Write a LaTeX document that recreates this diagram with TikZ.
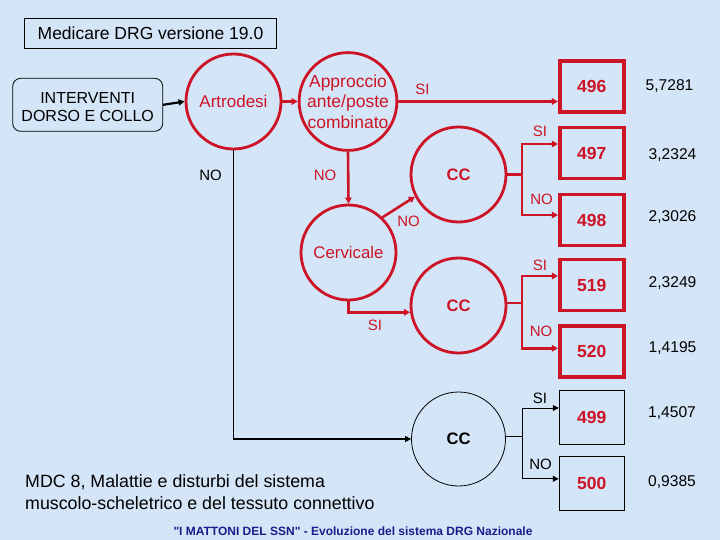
\documentclass[tikz,border=0pt]{standalone}
\usepackage{fontspec}
\setmainfont{Liberation Sans}
\newfontfamily\footfont{Liberation Sans}[Ligatures=TeXOff]
\usetikzlibrary{arrows.meta,calc}
\definecolor{bgc}{RGB}{212,229,247}
\definecolor{dred}{RGB}{204,20,38}
\definecolor{navy}{RGB}{28,28,140}
\begin{document}
\begin{tikzpicture}[x=1pt,y=-1pt,
  rc/.style={circle,draw=dred,line width=2.8pt,minimum size=95pt,inner sep=0pt,text=dred,align=center},
  kc/.style={circle,draw=black,line width=0.8pt,minimum size=94pt,inner sep=0pt,align=center,font=\fontsize{16.6}{19}\selectfont\bfseries},
  rbox/.style={draw=dred,line width=3.6pt,minimum width=64pt,minimum height=51pt,inner sep=0pt,text=dred,font=\fontsize{17.5}{20}\selectfont\bfseries},
  kbox/.style={draw=black,line width=0.9pt,minimum width=65pt,minimum height=54pt,inner sep=0pt,text=dred,font=\fontsize{17.5}{20}\selectfont\bfseries},
  val/.style={inner sep=0pt,font=\fontsize{15.6}{18}\selectfont},
  lab/.style={inner sep=0pt,font=\fontsize{15}{18}\selectfont},
  rarr/.style={draw=dred,line width=2.6pt,-{Triangle[length=6pt,width=6.5pt]}},
  rline/.style={draw=dred,line width=2.6pt},
  karr/.style={draw=black,line width=1.4pt,-{Triangle[length=6pt,width=6pt]}},
  kline/.style={draw=black,line width=1pt}]
\fill[bgc] (0,0) rectangle (720,540);
\useasboundingbox (0,0) rectangle (720,540);

% title
\node[draw=black,line width=0.8pt,minimum width=252pt,minimum height=30pt,inner sep=0pt,
  font=\fontsize{17.5}{20}\selectfont] (title) at (150.5,33.3) {Medicare DRG versione 19.0};

% start box
\node[draw=black,line width=0.8pt,rounded corners=8pt,minimum width=150pt,minimum height=53pt,
  inner sep=0pt,align=center,font=\fontsize{16}{17.5}\selectfont] (int) at (87.7,104.8) {};
\node[inner sep=0pt,align=center,font=\fontsize{16}{17.5}\selectfont] (intt) at (87.7,107) {INTERVENTI\\DORSO E COLLO};

% circles
\node[rc,font=\fontsize{17}{20}\selectfont] (art) at (233.5,101.5) {Artrodesi};
\node[rc,font=\fontsize{17.5}{20.5}\selectfont] (app) at (348,101.5) {Approccio\\ante/poste\\combinato};
\node[rc,font=\fontsize{16.6}{19}\selectfont\bfseries] (cc1) at (458.5,174.5) {CC};
\node[rc,font=\fontsize{16.8}{19}\selectfont] (cer) at (348.5,252.5) {Cervicale};
\node[rc,font=\fontsize{16.6}{19}\selectfont\bfseries] (cc2) at (458.5,305.5) {CC};
\node[kc] (cc3) at (458.5,439) {CC};

% boxes
\node[rbox] (b496) at (591.7,86.7) {496};
\node[rbox] (b497) at (591.7,153) {497};
\node[rbox] (b498) at (591.7,220) {498};
\node[rbox] (b519) at (591.7,285) {519};
\node[rbox] (b520) at (591.7,351.3) {520};
\node[kbox] (b499) at (591.7,417) {499};
\node[kbox] (b500) at (591.7,483.3) {500};

% values
\node[val] (v496) at (669.5,86) {5,7281};
\node[val] (v497) at (672.5,155) {3,2324};
\node[val] (v498) at (672.5,217) {2,3026};
\node[val] (v519) at (672.5,283) {2,3249};
\node[val] (v520) at (672.5,348.5) {1,4195};
\node[val] (v499) at (672,413.5) {1,4507};
\node[val] (v500) at (672,482.5) {0,9385};

% connectors
\draw[draw=black,line width=2.2pt,-{Triangle[length=6pt,width=6pt]}] (int.east) -- (art.west);
\draw[rarr] (art.east) -- (app.west);
\draw[rarr] (app.east) -- (app.east -| b496.west);
\draw[rarr] (app.south) -- (cer.north);
\draw[rarr] (cer.46) -- (cc1.207);
\draw[rarr] (cer.south) |- (cc2.188);
\draw[karr] (art.south) |- (cc3.west);

% CC1 split
\coordinate (j1) at (522,174.5);
\draw[rline] (cc1.east) -- (j1);
\draw[rarr] (j1) |- ([yshift=9pt]b497.west);
\draw[rarr] (j1) |- ([yshift=5pt]b498.west);
% CC2 split
\coordinate (j2) at (522,303);
\draw[rline] (cc2.east |- j2) -- (j2);
\draw[rarr] (j2) |- ([yshift=9pt]b519.west);
\draw[rarr] (j2) |- ([yshift=3pt]b520.west);
% CC3 split
\coordinate (j3) at (522,436);
\draw[kline] (cc3.east |- j3) -- (j3);
\draw[kline,-{Triangle[length=6pt,width=6pt]}] (j3) |- ([yshift=9pt]b499.west);
\draw[kline,-{Triangle[length=6pt,width=6pt]}] (j3) |- ([yshift=4.5pt]b500.west);

% labels
\node[lab,text=dred] (l1) at (422.5,89) {SI};
\node[lab,text=dred] (l2) at (540,131.5) {SI};
\node[lab,text=dred] (l3) at (541.5,199.5) {NO};
\node[lab,text=dred] (l4) at (325,175.5) {NO};
\node[lab] (l5) at (210.5,175.5) {NO};
\node[lab,text=dred] (l6) at (408.5,221) {NO};
\node[lab,text=dred] (l7) at (375,325.5) {SI};
\node[lab,text=dred] (l8) at (540,265) {SI};
\node[lab,text=dred] (l9) at (541,331.5) {NO};
\node[lab] (l10) at (540,398) {SI};
\node[lab] (l11) at (540.5,464) {NO};

% bottom texts
\node[inner sep=0pt,align=left,anchor=west,font=\fontsize{17.8}{22}\selectfont] (mdc) at (25,492)
  {MDC 8, Malattie e disturbi del sistema\\muscolo-scheletrico e del tessuto connettivo};
\node[inner sep=0pt,anchor=base,text=navy,font=\footfont\fontsize{12}{14}\selectfont\bfseries] (foot) at (353,535)
  {"I MATTONI DEL SSN" - Evoluzione del sistema DRG Nazionale};
\end{tikzpicture}
\end{document}
